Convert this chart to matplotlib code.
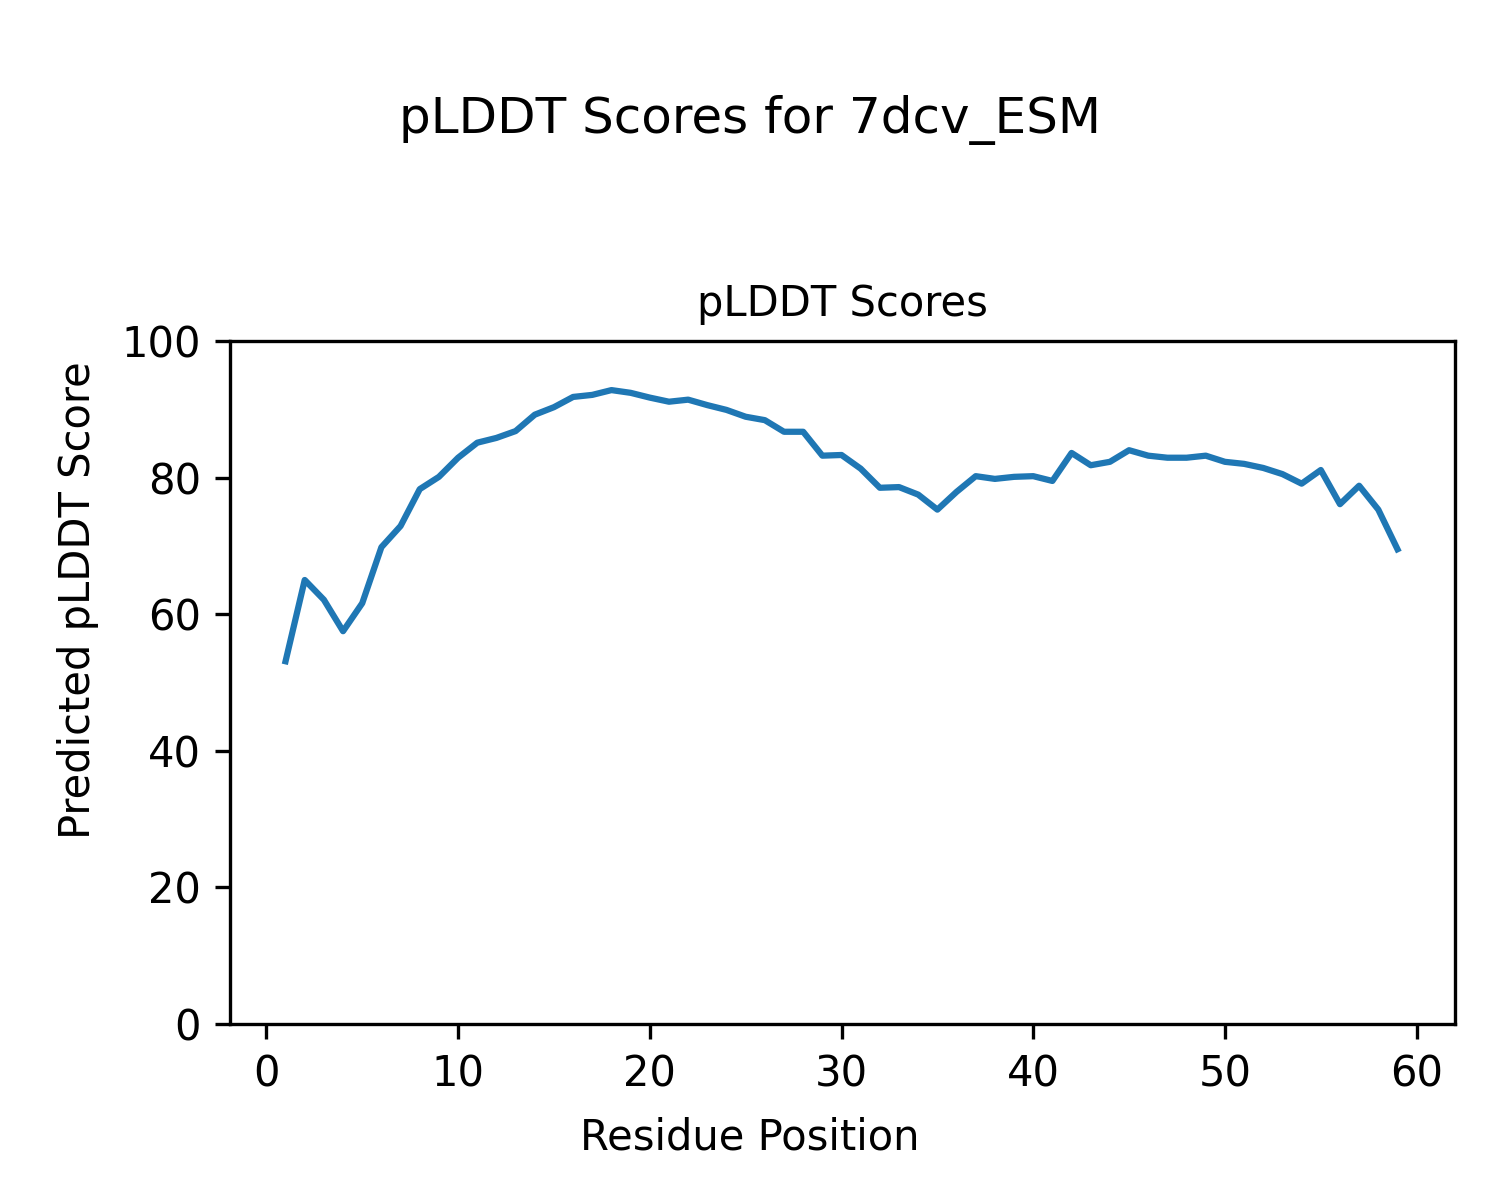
import matplotlib
matplotlib.use("Agg")
import matplotlib.pyplot as plt

residues = list(range(1, 60))
plddt = [53.1, 65.0, 62.1, 57.5, 61.6, 69.8, 72.9, 78.3, 80.1, 82.9,
         85.1, 85.8, 86.8, 89.2, 90.3, 91.8, 92.1, 92.8, 92.4, 91.7,
         91.1, 91.4, 90.6, 89.9, 88.9, 88.4, 86.7, 86.7, 83.2, 83.3,
         81.3, 78.5, 78.6, 77.5, 75.3, 77.9, 80.2, 79.8, 80.1, 80.2,
         79.5, 83.6, 81.8, 82.3, 84.0, 83.2, 82.9, 82.9, 83.2, 82.3,
         82.0, 81.4, 80.5, 79.1, 81.1, 76.1, 78.8, 75.3, 69.5]

fig = plt.figure(figsize=(5, 4), dpi=300)
ax = fig.add_axes([0.1533, 0.1467, 0.8167, 0.5692])
ax.plot(residues, plddt, color="#1f77b4", linewidth=1.5)
ax.set_ylim(0, 100)
ax.set_xlim(-1.9, 62)
ax.set_title("pLDDT Scores", fontsize=10)
fig.text(0.5, 1 - 1138 / 1200, "Residue Position", fontsize=10,
         ha="center", va="center")
fig.text(1 - (1500 - 78) / 1500, 0.5, "Predicted pLDDT Score", fontsize=10,
         ha="center", va="center", rotation=90)
fig.text(0.5, 1 - 120 / 1200, "pLDDT Scores for 7dcv_ESM", fontsize=12,
         ha="center", va="center")
fig.savefig("out.png", dpi=300)
